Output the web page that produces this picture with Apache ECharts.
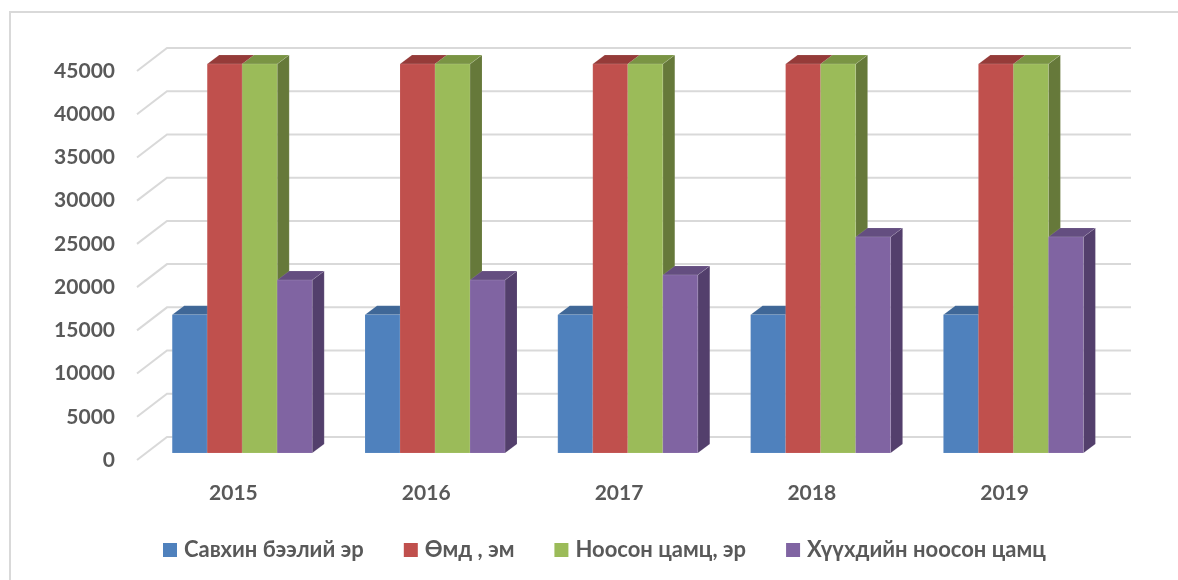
<!DOCTYPE html>
<html><head><meta charset="utf-8">
<style>html,body{margin:0;padding:0;background:#fff}#c{width:1178px;height:580px}</style>
<script src="https://cdn.jsdelivr.net/npm/echarts@6/dist/echarts.min.js"></script></head>
<body><div id="c"></div>
<script>
const categories = ['2015','2016','2017','2018','2019'];
const ticks = [0,5000,10000,15000,20000,25000,30000,35000,40000,45000];
const savkhin = [16000,16000,16000,16000,16000];
const omd = [45000,45000,45000,45000,45000];
const noosonEr = [45000,45000,45000,45000,45000];
const khuukhed = [20000,20000,20600,25000,25000];
const names = ['Савхин бээлий эр','Өмд , эм','Ноосон цамц, эр','Хүүхдийн ноосон цамц'];
const valuesList = [savkhin, omd, noosonEr, khuukhed];
const frontColors = ['#4F81BD','#C0504D','#9BBB59','#8064A2'];
const topColors = ['#3F6797','#953B39','#7A9444','#644E80'];
const sideColors = ['#3A5F8C','#8A3735','#66793A','#533F6C'];
const FONT = 'Lato, "Noto Sans", sans-serif';
const chart = echarts.init(document.getElementById('c'), null, {renderer:'canvas'});

// 3D projection offsets from the front of the floor
const wallDx = 30, wallDy = -23;
const barFrontDx = 8.8, barFrontDy = -7;
const depthDx = 12, depthDy = -9;
const barW = 35;

function gridItem(params, api){
  const cs = params.coordSys;
  const y = api.coord([0, api.value(0)])[1];
  const x0 = cs.x, x1 = cs.x + cs.width;
  return {type:'polyline', silent:true,
    shape:{points:[[x0,y],[x0+wallDx,y+wallDy],[x1+wallDx,y+wallDy]]},
    style:{stroke:'#D9D9D9', lineWidth:2, fill:null}};
}
function barItem(k){
  return function(params, api){
    const cat = api.value(0), val = api.value(1);
    const c = api.coord([cat,val]), b = api.coord([cat,0]);
    const x = c[0] + barFrontDx + (k-2)*barW;
    const top = c[1] + barFrontDy, bot = b[1] + barFrontDy;
    const d = [depthDx, depthDy];
    const edge = {stroke:'rgba(255,255,255,0.1)', lineWidth:1};
    return {type:'group', children:[
      {type:'polygon', shape:{points:[[x+barW,top],[x+barW+d[0],top+d[1]],[x+barW+d[0],bot+d[1]],[x+barW,bot]]}, style:Object.assign({fill:sideColors[k]},edge)},
      {type:'polygon', shape:{points:[[x,top],[x+d[0],top+d[1]],[x+barW+d[0],top+d[1]],[x+barW,top]]}, style:Object.assign({fill:topColors[k]},edge)},
      {type:'rect', shape:{x:x,y:top,width:barW,height:bot-top}, style:Object.assign({fill:frontColors[k]},edge)}
    ]};
  };
}
const series = [{
  name:'grid', type:'custom', silent:true, renderItem:gridItem, clip:false, z:1,
  data:ticks.map(t=>[t]), encode:{y:0}
}];
names.forEach((n,k)=>{
  series.push({name:n,type:'custom',renderItem:barItem(k),clip:false,z:2+k,
    itemStyle:{color:frontColors[k]},
    data:valuesList[k].map((v,i)=>[i,v]),encode:{x:0,y:1}});
});
chart.setOption({
  animation:false, backgroundColor:'#fff',
  graphic:[{type:'polyline',silent:true,shape:{points:[[10,580],[10,12],[1178,12]]},style:{stroke:'#D9D9D9',lineWidth:2,fill:null}}],
  grid:{left:137,top:71,width:964,height:389,containLabel:false},
  xAxis:{type:'category',data:categories,boundaryGap:true,
    axisLine:{show:false},axisTick:{show:false},
    axisLabel:{color:'#595959',fontFamily:FONT,fontWeight:'bold',fontSize:21,margin:23}},
  yAxis:{type:'value',min:0,max:45000,interval:5000,
    axisLine:{show:false},axisTick:{show:false},splitLine:{show:false},
    axisLabel:{color:'#595959',fontFamily:FONT,fontWeight:'bold',fontSize:21,margin:22,padding:[2,0,0,0],
      formatter:v=>String(v)}},
  legend:{data:names,left:163,top:539,padding:0,itemWidth:14,itemHeight:14,itemGap:40,icon:'rect',
    textStyle:{color:'#595959',fontFamily:FONT,fontWeight:'bold',fontSize:22,padding:[0,0,0,2]}},
  series
});
</script></body></html>
